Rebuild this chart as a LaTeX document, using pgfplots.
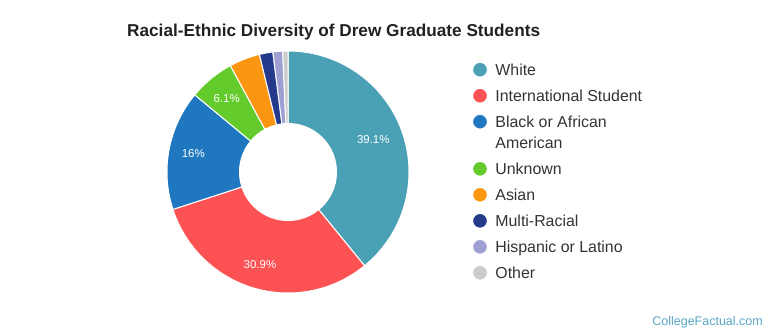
\documentclass[border=0pt]{standalone}
\usepackage{fontspec}
\setmainfont{Liberation Sans}
\usepackage{pgfplots}
\pgfplotsset{compat=1.18}
\definecolor{cWhite}{HTML}{4AA0B5}
\definecolor{cIntl}{HTML}{FC5254}
\definecolor{cBlack}{HTML}{1F77C0}
\definecolor{cUnk}{HTML}{64CB2C}
\definecolor{cAsian}{HTML}{FA9612}
\definecolor{cMulti}{HTML}{263A8C}
\definecolor{cHisp}{HTML}{A09FD2}
\definecolor{cOther}{HTML}{CCCCCC}
\definecolor{cFoot}{HTML}{5AA6C6}
\definecolor{cText}{HTML}{333333}
% shares (percent), cumulative from the top, clockwise
% White 39.1, International 30.9, Black 16.0, Unknown 6.1, Asian 4.1, Multi 1.8, Hispanic 1.3, Other 0.7
\def\cA{0}\def\cB{39.1}\def\cC{70.0}\def\cD{86.0}\def\cE{92.1}\def\cF{96.2}\def\cG{98.0}\def\cH{99.3}\def\cI{100}
\newcommand\slice[4][]{%
  \addplot[fill=#2, draw=white, line width=1pt, domain={#3*3.6}:{#4*3.6}, samples=90, #1]
    ({288+121*sin(x)},{172-121*cos(x)}) -- (axis cs:288,172) -- cycle;}
\begin{document}
\begin{tikzpicture}
\begin{axis}[
  x=1pt, y=1pt, xmin=0, xmax=770, ymin=0, ymax=335, y dir=reverse,
  scale only axis, hide axis, clip=false,
  legend image code/.code={\fill[#1] (7.4pt,5.5pt) circle (7.4pt);},
  legend style={at={(axis cs:471.9,56.3)}, anchor=north west, draw=none, fill=none,
    font=\fontsize{15.9}{20.7}\selectfont\color{cText}, row sep=0pt, column sep=7.5pt,
    inner sep=0pt, nodes={inner sep=0pt, anchor=base west, text height=18.7pt, text depth=7.3pt}},
  legend cell align=left,
]
\path (axis cs:0,0) rectangle (axis cs:770,335);
\slice{cWhite}{\cA}{\cB}\addlegendentry{White}
\slice{cIntl}{\cB}{\cC}\addlegendentry{International Student}
\slice{cBlack}{\cC}{\cD}\addlegendentry[text depth=2pt]{Black or African}
\addlegendimage{empty legend}\addlegendentry{American}
\slice{cUnk}{\cD}{\cE}\addlegendentry{Unknown}
\slice{cAsian}{\cE}{\cF}\addlegendentry{Asian}
\slice{cMulti}{\cF}{\cG}\addlegendentry{Multi-Racial}
\slice{cHisp}{\cG}{\cH}\addlegendentry{Hispanic or Latino}
\slice{cOther}{\cH}{\cI}\addlegendentry{Other}
\addplot[fill=white, draw=none, domain=0:360, samples=120, forget plot]
  ({288+49*sin(x)},{172-49*cos(x)});
\node[text=white, font=\fontsize{11.5}{13}\selectfont] at (axis cs:373.3,140) {39.1\%};
\node[text=white, font=\fontsize{11.5}{13}\selectfont] at (axis cs:260,265) {30.9\%};
\node[text=white, font=\fontsize{11.5}{13}\selectfont] at (axis cs:193.3,153.3) {16\%};
\node[text=white, font=\fontsize{11.5}{13}\selectfont] at (axis cs:226.7,98.3) {6.1\%};
\node[anchor=base west, inner sep=0pt, text=black!87, font=\bfseries\fontsize{17.2}{19}\selectfont] at (axis cs:127,36) {Racial-Ethnic Diversity of Drew Graduate Students};
\node[anchor=base east, inner sep=0pt, text=cFoot, font=\fontsize{12.5}{14}\selectfont] at (axis cs:763,325) {CollegeFactual.com};
\end{axis}
\end{tikzpicture}
\end{document}
